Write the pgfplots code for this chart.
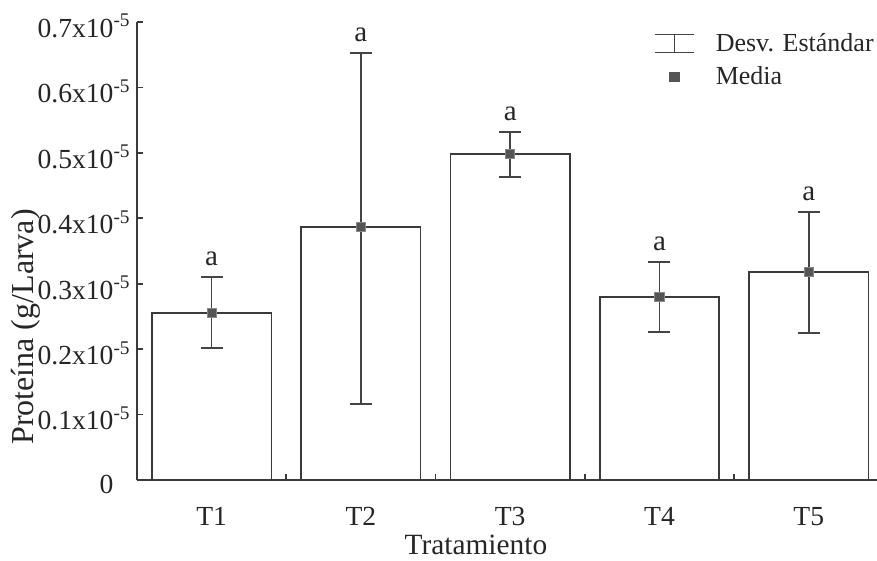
\documentclass[border=0pt]{standalone}
\usepackage{pgfplots}
\pgfplotsset{compat=1.18}
\usepackage{fontspec}
\setmainfont{Liberation Serif}
\usetikzlibrary{calc}
\definecolor{barline}{HTML}{3A3A3A}
\definecolor{errc}{HTML}{444444}
\definecolor{markc}{HTML}{555555}
\begin{document}
\begin{tikzpicture}
\begin{axis}[
  name=ax,
  scale only axis,
  width=370pt, height=229pt,
  xmin=0.5, xmax=5.457,
  ymin=0, ymax=0.7,
  axis x line*=bottom, axis y line*=left,
  axis line style={barline, line width=0.8pt},
  xtick={1,2,3,4,5},
  xticklabels={T1,T2,T3,T4,T5},
  major x tick style={draw=none},
  minor xtick={1.5,2.5,3.5,4.5},
  minor tick length=3pt,
  minor x tick style={barline, line width=0.8pt},
  ytick={0,0.1,0.2,0.3,0.4,0.5,0.6,0.7},
  yticklabels={0\hphantom{\textsuperscript{-5}},0.1x10\textsuperscript{-5},0.2x10\textsuperscript{-5},0.3x10\textsuperscript{-5},0.4x10\textsuperscript{-5},0.5x10\textsuperscript{-5},0.6x10\textsuperscript{-5},0.7x10\textsuperscript{-5}},
  major tick length=3pt,
  tick align=inside,
  y tick style={barline, line width=0.8pt},
  tick label style={font=\fontsize{13.8}{16}\selectfont, text=black!85},
  yticklabel style={xshift=-2pt, yshift=-2pt, inner sep=1pt},
  xticklabel style={yshift=-10pt},
  xlabel={Tratamiento},
  ylabel={Proteína (g/Larva)},
  xlabel style={font=\fontsize{14.7}{17}\selectfont, text=black!85, at={(axis description cs:0.458,-0.142)}, anchor=center},
  ylabel style={font=\fontsize{16}{18}\selectfont, text=black!85, at={(axis description cs:-0.15,0.334)}, anchor=center},
  legend style={draw=none, fill=none, at={(rel axis cs:0.695,0.99)}, anchor=north west,
    font=\fontsize{13}{15}\selectfont, text=black!85, row sep=2pt, inner sep=1pt},
  legend cell align=left,
  clip=false,
]
\addplot[ybar, bar width=0.8, draw=barline, fill=white, line width=0.8pt, forget plot]
  table[x=x, y=y] {
x y
1 0.255
2 0.387
3 0.498
4 0.280
5 0.318
};
\addplot[forget plot, only marks, mark=square*, mark size=2.3pt, color=markc,
  mark options={fill=markc, draw=markc!70},
  error bars/.cd, y dir=both, y explicit,
  error bar style={errc, line width=0.8pt},
  error mark options={errc, rotate=90, mark size=5.5pt, line width=0.8pt}]
  table[x=x, y=y, y error plus=ep, y error minus=em] {
x y ep em
1 0.255 0.055 0.053
2 0.387 0.266 0.271
3 0.498 0.034 0.035
4 0.280 0.053 0.054
5 0.318 0.092 0.093
};
\addplot[forget plot, only marks, mark=none, nodes near coords, point meta=explicit symbolic,
  nodes near coords style={font=\fontsize{14.5}{16}\selectfont, text=black!85, anchor=south, yshift=2pt}]
  table[x=x, y=y, meta=m] {
x y m
1 0.310 a
2 0.653 a
3 0.532 a
4 0.333 a
5 0.410 a
};
\addlegendimage{legend image code/.code={
  \draw[errc, line width=0.8pt] (0.05cm,0.16cm)--(0.75cm,0.16cm) (0.4cm,0.16cm)--(0.4cm,-0.16cm) (0.05cm,-0.16cm)--(0.75cm,-0.16cm);
  \path (1.05cm,0);}}
\addlegendentry{Desv. Estándar}
\addlegendimage{legend image code/.code={
  \fill[markc] (0.32cm,-0.08cm) rectangle (0.48cm,0.08cm);
  \path (0.05cm,0) (1.05cm,0);}}
\addlegendentry{Media}
\end{axis}
\pgfresetboundingbox
\path ($(ax.south west)+(-68.5pt,-40.5pt)$) rectangle ($(ax.north east)+(0pt,11pt)$);
\end{tikzpicture}
\end{document}
